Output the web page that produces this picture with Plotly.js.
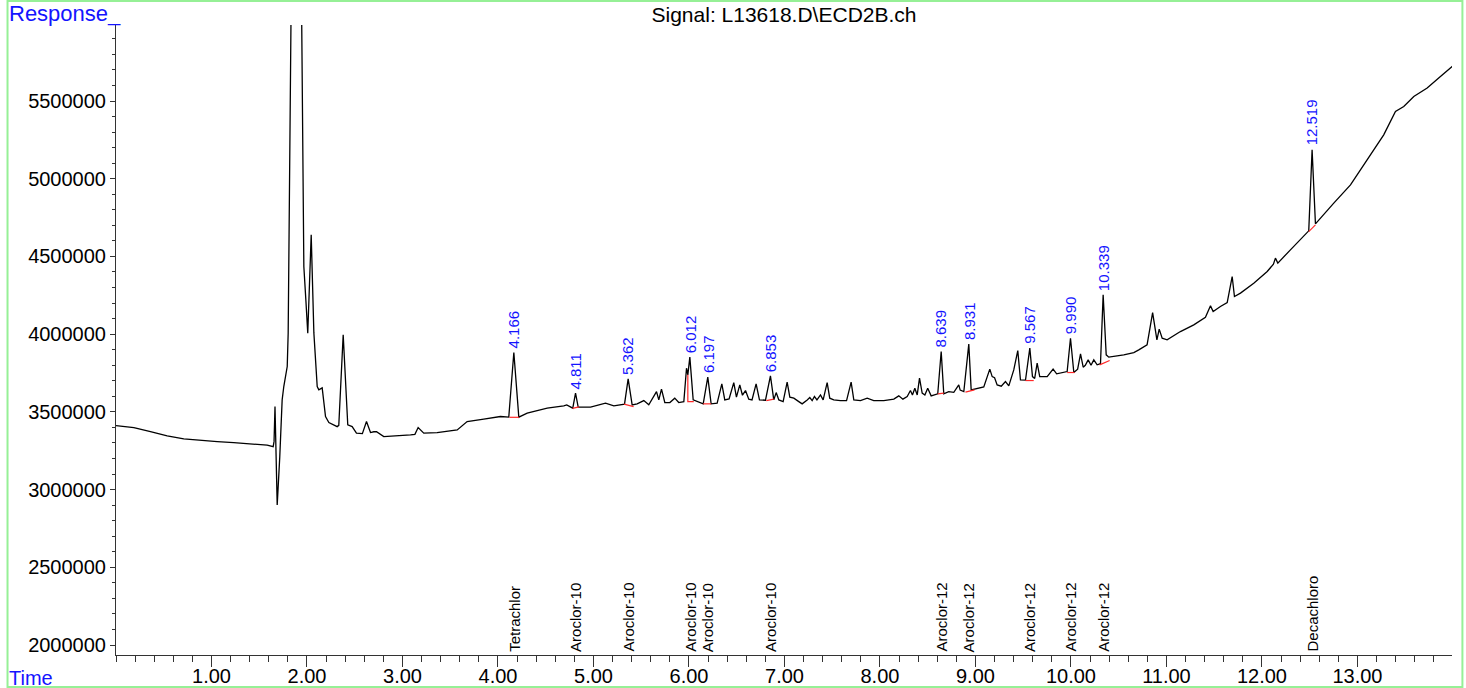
<!DOCTYPE html>
<html>
<head>
<meta charset="utf-8">
<script src="https://cdn.plot.ly/plotly-3.0.1.min.js"></script>
<style>
  html, body { margin: 0; padding: 0; background: #ffffff; }
  #chart { width: 1466px; height: 688px; }
</style>
</head>
<body>
<div id="chart"></div>
<script>
// ---- Chromatogram signal (time in minutes, response) ----
const timeMin = [
  0.000, 0.187, 0.361, 0.536, 0.710, 0.885, 1.060, 1.233, 1.408, 1.583, 1.646, 1.655, 1.665, 1.672, 1.688, 1.715,
  1.740, 1.757, 1.793, 1.803, 1.812, 1.840, 1.920, 1.942, 1.956, 1.967, 1.988, 2.008, 2.044, 2.072, 2.107, 2.124,
  2.159, 2.194, 2.229, 2.316, 2.333, 2.379, 2.427, 2.473, 2.518, 2.580, 2.623, 2.665, 2.700, 2.728, 2.804, 2.979,
  3.084, 3.130, 3.164, 3.223, 3.363, 3.573, 3.677, 3.851, 4.026, 4.113, 4.166, 4.218, 4.306, 4.515, 4.600, 4.689,
  4.720, 4.760, 4.783, 4.812, 4.840, 4.969, 5.126, 5.213, 5.325, 5.363, 5.405, 5.457, 5.527, 5.579, 5.660, 5.684,
  5.712, 5.747, 5.800, 5.851, 5.893, 5.946, 5.974, 5.988, 6.009, 6.044, 6.086, 6.149, 6.197, 6.232, 6.295, 6.344,
  6.375, 6.420, 6.469, 6.497, 6.532, 6.560, 6.592, 6.626, 6.660, 6.703, 6.738, 6.801, 6.853, 6.888, 6.913, 6.941,
  6.986, 7.028, 7.056, 7.098, 7.150, 7.185, 7.238, 7.265, 7.290, 7.314, 7.340, 7.377, 7.405, 7.447, 7.474, 7.516,
  7.586, 7.650, 7.698, 7.726, 7.796, 7.866, 7.935, 8.040, 8.145, 8.197, 8.240, 8.285, 8.319, 8.340, 8.365, 8.390,
  8.414, 8.442, 8.470, 8.500, 8.536, 8.605, 8.641, 8.668, 8.720, 8.773, 8.825, 8.840, 8.878, 8.930, 8.955, 9.018,
  9.087, 9.150, 9.175, 9.200, 9.227, 9.270, 9.314, 9.349, 9.401, 9.443, 9.471, 9.524, 9.569, 9.597, 9.620, 9.646,
  9.673, 9.751, 9.813, 9.850, 9.960, 9.995, 10.030, 10.070, 10.100, 10.128, 10.150, 10.180, 10.210, 10.239, 10.274, 10.309,
  10.337, 10.369, 10.396, 10.553, 10.658, 10.710, 10.797, 10.855, 10.900, 10.924, 10.955, 11.007, 11.146, 11.286, 11.408, 11.461,
  11.489, 11.565, 11.636, 11.688, 11.712, 11.775, 11.914, 12.055, 12.120, 12.141, 12.166, 12.298, 12.473, 12.490, 12.525, 12.560,
  12.752, 12.927, 13.101, 13.275, 13.398, 13.485, 13.590, 13.730, 13.869, 14.000
];
const response = [
  3412000, 3399000, 3373000, 3345600, 3326000, 3315300, 3308900, 3302500, 3292000, 3285700, 3276000, 3310000, 3534000, 3260000, 2901500, 3212000,
  3577000, 3663000, 3791500, 4008000, 6200000, 12000000, 12000000, 6200000, 5078500, 4435000, 4221000, 4006000, 4639000, 4008000, 3663000, 3641600,
  3654000, 3470000, 3431000, 3405000, 3413000, 3995500, 3416000, 3405000, 3363000, 3360000, 3437600, 3367000, 3372000, 3373000, 3341000, 3345600,
  3352000, 3355000, 3399000, 3363000, 3367000, 3384000, 3437600, 3453000, 3470000, 3466000, 3881600, 3466000, 3491600, 3524000, 3530000, 3538600,
  3545000, 3530000, 3524000, 3620300, 3531000, 3530000, 3556000, 3538600, 3549500, 3712400, 3545000, 3552000, 3572700, 3545000, 3630600, 3577000,
  3646000, 3560000, 3560000, 3588000, 3560000, 3565000, 3781000, 3738000, 3852000, 3577000, 3567000, 3551500, 3723000, 3551500, 3556000, 3680000,
  3577000, 3583000, 3688500, 3594600, 3673700, 3607000, 3637000, 3581700, 3577000, 3680000, 3577000, 3575000, 3731700, 3577000, 3624000, 3577000,
  3566000, 3691000, 3594600, 3588000, 3566000, 3551500, 3577000, 3592000, 3572000, 3598500, 3577000, 3609000, 3577000, 3688500, 3588000, 3577000,
  3572700, 3572000, 3691000, 3577000, 3572700, 3588000, 3572700, 3572700, 3581700, 3603000, 3581700, 3598500, 3637000, 3609000, 3652500, 3609000,
  3717000, 3620300, 3609000, 3652500, 3603000, 3616000, 3888000, 3616000, 3630600, 3626000, 3673700, 3640000, 3630600, 3935600, 3641600, 3652500,
  3660000, 3774700, 3727000, 3720000, 3673700, 3665000, 3695000, 3667300, 3770000, 3894500, 3706000, 3704000, 3910000, 3727000, 3715000, 3813000,
  3727000, 3727000, 3774700, 3745000, 3759400, 3974000, 3753000, 3775000, 3873200, 3787600, 3800000, 3834600, 3800000, 3834600, 3802500, 3810000,
  4253000, 3866800, 3852000, 3866800, 3881600, 3899000, 3931000, 4139000, 3963000, 4032000, 3974000, 3963300, 4016700, 4060000, 4109000, 4182000,
  4145400, 4177600, 4203000, 4370600, 4242000, 4264000, 4328000, 4403000, 4450000, 4489000, 4457000, 4542500, 4650000, 4664700, 5186000, 4709800,
  4843000, 4960700, 5121600, 5282500, 5432500, 5464500, 5529000, 5583000, 5658000, 5726500
];

// ---- Integration baselines (red) ----
const baselineTime = [4.12, 4.22, null, 4.78, 4.85, null, 5.32, 5.42, null, 5.988, 5.988, 6.05, null, 6.149, 6.232, null,
  6.81, 6.888, null, 8.605, 8.668, null, 8.895, 8.99, null, 9.524, 9.61, null, 9.96, 10.037, null, 10.30, 10.405, null, 12.49, 12.56];
const baselineResp = [3465000, 3465000, null, 3522500, 3532000, null, 3549500, 3534000, null, 3738000, 3566000, 3566000, null, 3551500, 3551500, null,
  3572700, 3581700, null, 3616000, 3620300, null, 3626800, 3641600, null, 3701400, 3701400, null, 3753000, 3753000, null, 3802500, 3830000, null, 4660000, 4703000];

// ---- Peak labels ----
const peakRT = [4.166, 4.811, 5.362, 6.012, 6.197, 6.853, 8.639, 8.931, 9.567, 9.990, 10.339, 12.519];
const peakLabel = ["4.166", "4.811", "5.362", "6.012", "6.197", "6.853", "8.639", "8.931", "9.567", "9.990", "10.339", "12.519"];
const peakApex = [3881600, 3620300, 3712400, 3852000, 3723000, 3731700, 3888000, 3935600, 3910000, 3974000, 4253000, 5186000];
const compoundName = ["Tetrachlor", "Aroclor-10", "Aroclor-10", "Aroclor-10", "Aroclor-10", "Aroclor-10",
  "Aroclor-12", "Aroclor-12", "Aroclor-12", "Aroclor-12", "Aroclor-12", "Decachloro"];

// ---- Axis ticks ----
const xTickVals = [1, 2, 3, 4, 5, 6, 7, 8, 9, 10, 11, 12, 13];
const xTickText = ["1.00", "2.00", "3.00", "4.00", "5.00", "6.00", "7.00", "8.00", "9.00", "10.00", "11.00", "12.00", "13.00"];
const yTickVals = [2000000, 2500000, 3000000, 3500000, 4000000, 4500000, 5000000, 5500000];

const FONT = "Liberation Sans, Arial, Helvetica, sans-serif";
const BLUE = "rgb(20,20,255)";

const traces = [
  {
    x: timeMin, y: response, type: "scatter", mode: "lines",
    line: { color: "#000000", width: 1.3 }, hoverinfo: "skip", showlegend: false
  },
  {
    x: baselineTime, y: baselineResp, type: "scatter", mode: "lines",
    line: { color: "rgb(255,40,40)", width: 1.2 }, hoverinfo: "skip", showlegend: false, connectgaps: false
  }
];

const annotations = [];
for (let i = 0; i < peakRT.length; i++) {
  annotations.push({
    x: peakRT[i], y: peakApex[i], xref: "x", yref: "y", text: peakLabel[i], showarrow: false,
    textangle: -90, xanchor: "center", yanchor: "bottom", yshift: 2,
    font: { family: FONT, size: 15, color: BLUE }
  });
  annotations.push({
    x: peakRT[i], y: 0, xref: "x", yref: "paper", text: compoundName[i], showarrow: false,
    textangle: -90, xanchor: "center", yanchor: "bottom", yshift: 1,
    font: { family: FONT, size: 15, color: "#000000" }
  });
}
annotations.push({
  x: -0.0815, y: 1.019, xref: "paper", yref: "paper", text: "Response_", showarrow: false,
  xanchor: "left", yanchor: "middle", font: { family: FONT, size: 22, color: BLUE }
});
annotations.push({
  x: -0.0815, y: -0.036, xref: "paper", yref: "paper", text: "Time", showarrow: false,
  xanchor: "left", yanchor: "middle", font: { family: FONT, size: 20, color: BLUE }
});

const layout = {
  width: 1466, height: 688,
  margin: { l: 116, r: 14, t: 25, b: 33, pad: 0 },
  paper_bgcolor: "#ffffff", plot_bgcolor: "#ffffff",
  font: { family: FONT, size: 20, color: "#000000" },
  title: {
    text: "Signal: L13618.D\\ECD2B.ch", x: 0.5, xref: "paper", xanchor: "center",
    y: 0.978, yref: "container", yanchor: "middle",
    font: { family: FONT, size: 21, color: "#000000" }
  },
  xaxis: {
    range: [0, 13.99], showgrid: false, zeroline: false,
    showline: true, linecolor: "#333333", linewidth: 1, mirror: false,
    tickmode: "array", tickvals: xTickVals, ticktext: xTickText,
    ticks: "outside", ticklen: 11, tickcolor: "#333333", tickwidth: 1,
    ticklabelstandoff: -8,
    tickfont: { family: FONT, size: 20, color: "#000000" },
    minor: { dtick: 0.2, tick0: 0, ticks: "outside", ticklen: 6, tickcolor: "#333333", tickwidth: 1, showgrid: false }
  },
  yaxis: {
    range: [1935650, 5989000], showgrid: false, zeroline: false,
    showline: true, linecolor: "#333333", linewidth: 1, mirror: false,
    tickmode: "array", tickvals: yTickVals, tickformat: "d",
    ticks: "outside", ticklen: 5, tickcolor: "#333333", tickwidth: 1,
    tickfont: { family: FONT, size: 20, color: "#000000" },
    minor: { dtick: 100000, tick0: 0, ticks: "outside", ticklen: 3, tickcolor: "#333333", tickwidth: 1, showgrid: false }
  },
  annotations: annotations,
  shapes: [{
    type: "rect", xref: "paper", yref: "paper",
    x0: -0.0812, x1: 1.0078, y0: -0.0508, y1: 1.0381,
    line: { color: "rgb(150,240,150)", width: 2 }, fillcolor: "rgba(0,0,0,0)", layer: "below"
  }],
  showlegend: false
};

Plotly.newPlot("chart", traces, layout, { displayModeBar: false, staticPlot: true });
</script>
</body>
</html>
